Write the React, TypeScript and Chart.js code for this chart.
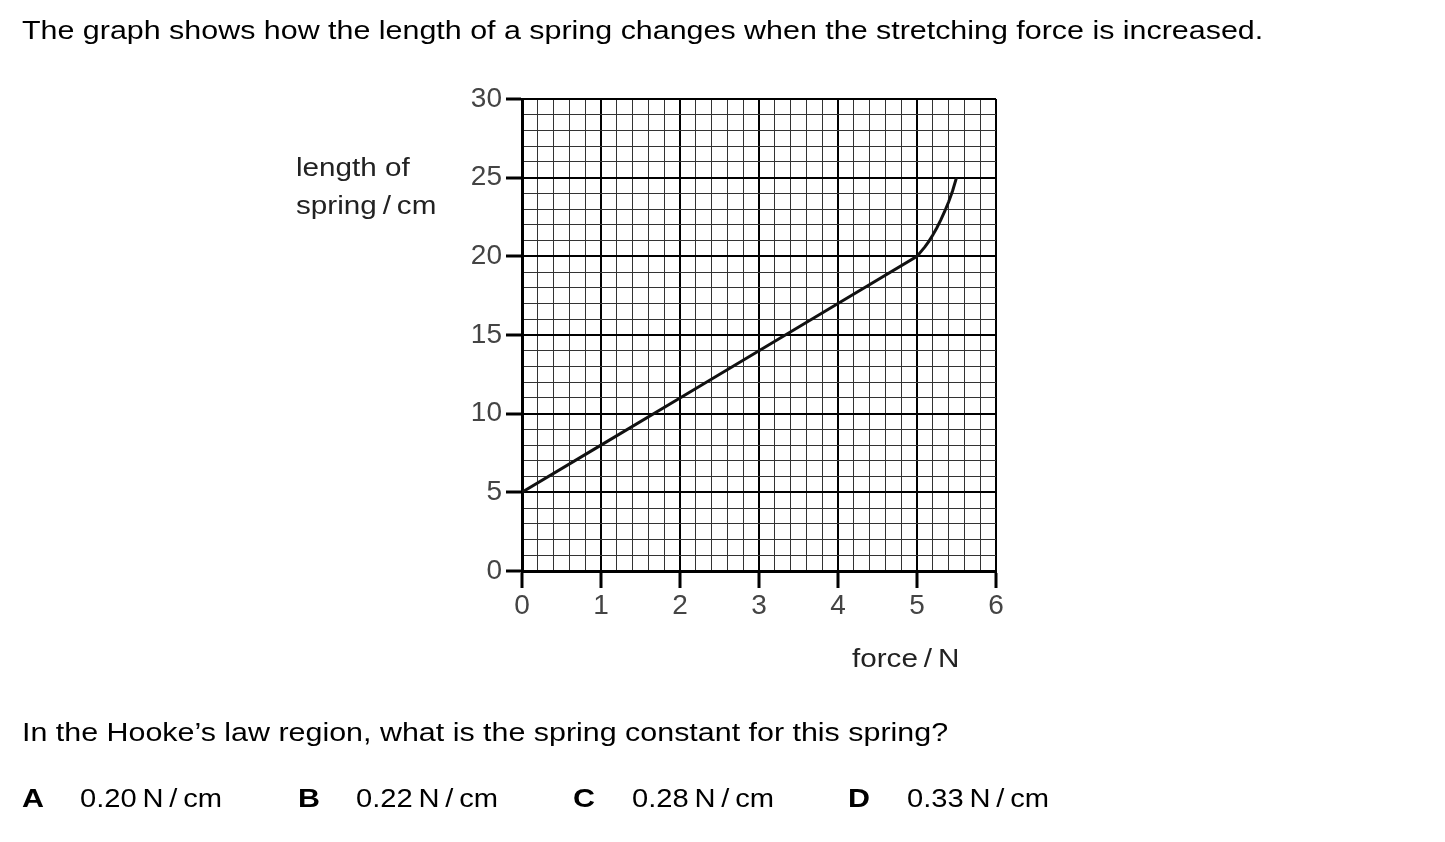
import React, { useEffect, useRef } from "react";
import { Chart, registerables } from "chart.js";

Chart.register(...registerables);

const forceN = [0, 1, 2, 3, 4, 5, 5.05, 5.1, 5.15, 5.2, 5.25, 5.3, 5.35, 5.4, 5.45, 5.5];
const lengthCm = [5, 8, 11, 14, 17, 20, 20.3, 20.6, 20.95, 21.35, 21.8, 22.3, 22.85, 23.45, 24.15, 25];
const xTickLabels = ["0", "1", "2", "3", "4", "5", "6"];
const yTickLabels = ["0", "5", "10", "15", "20", "25", "30"];

const FONT = "'Liberation Sans', Arial, sans-serif";

const isMajorX = (v: number) => Math.abs(v - Math.round(v)) < 1e-6;
const isMajorY = (v: number) => Math.abs(v / 5 - Math.round(v / 5)) < 1e-6;

export default function App() {
  const ref = useRef<HTMLCanvasElement | null>(null);

  useEffect(() => {
    document.body.style.margin = "0";
    const ctx = ref.current!;
    const chart = new Chart(ctx, {
      type: "line",
      data: {
        datasets: [
          {
            data: forceN.map((f, i) => ({ x: f, y: lengthCm[i] })),
            borderColor: "#111",
            borderWidth: 3,
            pointRadius: 0,
            tension: 0,
            fill: false,
          },
        ],
      },
      options: {
        animation: false,
        responsive: false,
        maintainAspectRatio: false,
        layout: { padding: { left: 462, right: 449, top: 99, bottom: 211 } },
        plugins: { legend: { display: false }, tooltip: { enabled: false } },
        scales: {
          x: {
            type: "linear",
            min: 0,
            max: 6,
            afterFit: (s: any) => {
              s.height = 60;
            },
            ticks: {
              stepSize: 0.2,
              autoSkip: false,
              maxRotation: 0,
              padding: 1,
              color: "#444",
              font: { family: FONT, size: 28 },
              callback: (v: any) => {
                const n = Number(v);
                return isMajorX(n) ? xTickLabels[Math.round(n)] : "";
              },
            },
            grid: {
              color: (c: any) => (c.tick && isMajorX(c.tick.value) ? "#000" : "#333"),
              lineWidth: (c: any) => (c.tick && isMajorX(c.tick.value) ? 2 : 1),
              tickColor: (c: any) =>
                c.tick && isMajorX(c.tick.value) ? "#000" : "rgba(0,0,0,0)",
              tickWidth: 3,
              tickLength: 17,
              drawTicks: true,
            },
            border: { display: true, color: "#000", width: 3 },
          },
          y: {
            type: "linear",
            min: 0,
            max: 30,
            afterFit: (s: any) => {
              s.width = 60;
            },
            ticks: {
              stepSize: 1,
              autoSkip: false,
              padding: 4,
              color: "#444",
              font: { family: FONT, size: 28 },
              callback: (v: any) => {
                const n = Number(v);
                return isMajorY(n) ? yTickLabels[Math.round(n / 5)] : "";
              },
            },
            grid: {
              color: (c: any) => (c.tick && isMajorY(c.tick.value) ? "#000" : "#333"),
              lineWidth: (c: any) => (c.tick && isMajorY(c.tick.value) ? 2 : 1),
              tickColor: (c: any) =>
                c.tick && isMajorY(c.tick.value) ? "#000" : "rgba(0,0,0,0)",
              tickWidth: 3,
              tickLength: 16,
              drawTicks: true,
            },
            border: { display: true, color: "#000", width: 3 },
          },
        },
      },
    });
    return () => chart.destroy();
  }, []);

  const text: React.CSSProperties = {
    position: "absolute",
    fontFamily: FONT,
    fontSize: 26,
    lineHeight: "30px",
    color: "#000",
    whiteSpace: "nowrap",
    margin: 0,
    transform: "scaleX(1.17)",
    transformOrigin: "0 50%",
  };

  const options = [
    { letter: "A", value: "0.20\u2009N\u2009/\u2009cm", lx: 22, vx: 80 },
    { letter: "B", value: "0.22\u2009N\u2009/\u2009cm", lx: 298, vx: 356 },
    { letter: "C", value: "0.28\u2009N\u2009/\u2009cm", lx: 573, vx: 632 },
    { letter: "D", value: "0.33\u2009N\u2009/\u2009cm", lx: 848, vx: 907 },
  ];

  return (
    <div
      style={{
        position: "absolute",
        left: 0,
        top: 0,
        width: 1445,
        height: 842,
        background: "#fff",
        overflow: "hidden",
      }}
    >
      <canvas
        ref={ref}
        width={1445}
        height={842}
        style={{ position: "absolute", left: 0, top: 0, width: 1445, height: 842 }}
      />
      <div style={{ ...text, left: 22, top: 15 }}>
        The graph shows how the length of a spring changes when the stretching force is increased.
      </div>
      <div style={{ ...text, left: 296, top: 152, color: "#222", transform: "scaleX(1.14)" }}>length of</div>
      <div style={{ ...text, left: 296, top: 190, color: "#222", transform: "scaleX(1.14)" }}>
        spring{"\u2009/\u2009"}cm
      </div>
      <div style={{ ...text, left: 852, top: 643, color: "#222", transform: "scaleX(1.14)" }}>
        force{"\u2009/\u2009"}N
      </div>
      <div style={{ ...text, left: 22, top: 717 }}>
        In the Hooke’s law region, what is the spring constant for this spring?
      </div>
      {options.map((o) => (
        <React.Fragment key={o.letter}>
          <div style={{ ...text, left: o.lx, top: 783, fontWeight: "bold" }}>{o.letter}</div>
          <div style={{ ...text, left: o.vx, top: 783, transform: "scaleX(1.12)" }}>{o.value}</div>
        </React.Fragment>
      ))}
    </div>
  );
}
